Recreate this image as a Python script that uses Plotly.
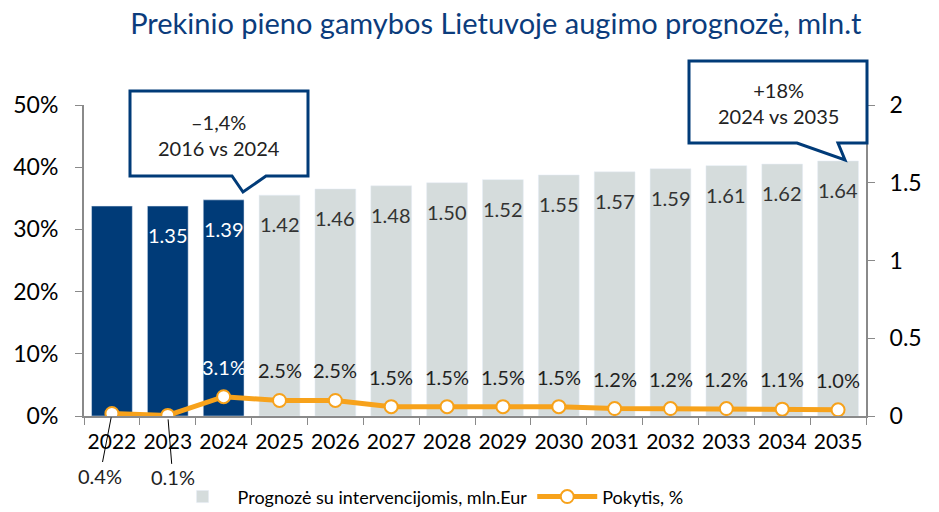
import plotly.graph_objects as go

years = [str(y) for y in range(2022, 2036)]
production = [1.35, 1.35, 1.39, 1.42, 1.46, 1.48, 1.50, 1.52, 1.55, 1.57, 1.59, 1.61, 1.62, 1.64]
bar_labels = ["", "1.35", "1.39", "1.42", "1.46", "1.48", "1.50", "1.52", "1.55", "1.57", "1.59", "1.61", "1.62", "1.64"]
change_pct = [0.4, 0.1, 3.1, 2.5, 2.5, 1.5, 1.5, 1.5, 1.5, 1.2, 1.2, 1.2, 1.1, 1.0]
n_actual = 3

NAVY = "#003b78"
GRAY = "#d5dcdc"
ORANGE = "#f7a21b"
FONT = "Lato"

# plot area in pixels (for decoration shapes)
L, R, T, B = 84, 866, 105, 416


def px(x):
    return (x - L) / (R - L)


def py(y):
    return (B - y) / (B - T)


fig = go.Figure()

fig.add_trace(go.Bar(
    x=years[:n_actual], y=production[:n_actual], marker_color=NAVY,
    width=0.73, showlegend=False, yaxis="y", hoverinfo="skip"))
fig.add_trace(go.Bar(
    x=years[n_actual:], y=production[n_actual:], marker_color=GRAY,
    width=0.73, name="Prognozė su intervencijomis, mln.Eur", yaxis="y"))
fig.add_trace(go.Scatter(
    x=years, y=change_pct, mode="lines+markers", name="Pokytis, %",
    line=dict(color=ORANGE, width=5),
    marker=dict(size=13, color="white", line=dict(color=ORANGE, width=2)),
    yaxis="y2"))

annotations = []
# bar value labels
for i, (v, lab) in enumerate(zip(production, bar_labels)):
    if not lab:
        continue
    annotations.append(dict(
        x=i, y=v, xref="x", yref="y", text=lab, showarrow=False,
        xanchor="center", yanchor="middle",
        yshift=-29, font=dict(family=FONT, size=20,
                              color="white" if i < n_actual else "#333333")))
# line value labels
for i, v in enumerate(change_pct):
    txt = f"{v:.1f}%"
    if i < 2:
        annotations.append(dict(
            x=i, y=v, xref="x", yref="y2", text=txt, showarrow=True,
            arrowhead=0, arrowwidth=1, arrowcolor="black",
            ax=-12 if i == 0 else 5, ay=62, standoff=4,
            font=dict(family=FONT, size=20, color="#222222")))
    else:
        annotations.append(dict(
            x=i, y=v, xref="x", yref="y2", text=txt, showarrow=False,
            xanchor="center", yanchor="middle",
            yshift=30, font=dict(family=FONT, size=20,
                                 color="white" if i < n_actual else "#222222")))

# callout boxes
def callout(x0, x1, y0, y1, p1, tip, p2):
    path = (f"M {px(x0)} {py(y0)} L {px(x1)} {py(y0)} L {px(x1)} {py(y1)} "
            f"L {px(p2)} {py(y1)} L {px(tip[0])} {py(tip[1])} L {px(p1)} {py(y1)} "
            f"L {px(x0)} {py(y1)} Z")
    return dict(type="path", xref="paper", yref="paper", path=path,
                line=dict(color=NAVY, width=3), fillcolor="white", layer="above")

shapes = [
    callout(130, 308, 91, 176, 232, (243, 192), 266),
    callout(689, 867, 61, 143, 797, (845, 160), 838),
]

annotations.append(dict(x=px(219), y=py(135), xref="paper", yref="paper",
                        xanchor="center", yanchor="middle",
                        text="\u20131,4%<br>2016 vs 2024", showarrow=False,
                        font=dict(family=FONT, size=20, color="#222222")))
annotations.append(dict(x=px(778), y=py(103), xref="paper", yref="paper",
                        xanchor="center", yanchor="middle",
                        text="+18%<br>2024 vs 2035", showarrow=False,
                        font=dict(family=FONT, size=20, color="#222222")))

axis_common = dict(showline=True, linecolor="#8a8a8a", linewidth=2,
                   ticks="outside", ticklen=7, tickcolor="#8a8a8a",
                   showgrid=False, zeroline=False, automargin=False)

fig.update_layout(
    width=939, height=512,
    margin=dict(l=L, r=939 - R, t=T, b=512 - B, autoexpand=False),
    paper_bgcolor="white", plot_bgcolor="white",
    barmode="overlay",
    title=dict(text="Prekinio pieno gamybos Lietuvoje augimo prognozė, mln.t",
               x=0.528, xanchor="center", y=0.953, yanchor="middle",
               font=dict(family=FONT, size=29, color="#0b3c7c")),
    font=dict(family=FONT, size=20, color="black"),
    xaxis=dict(type="category", range=[-0.5, 13.5], tickson="boundaries",
               tickangle=0, ticklabelstandoff=6,
               tickfont=dict(size=21), **axis_common),
    yaxis=dict(range=[0, 2], side="right", tickfont=dict(size=23),
               tickvals=[0, 0.5, 1, 1.5, 2], ticklabelstandoff=10,
               ticktext=["0", "0.5", "1", "1.5", "2"], **axis_common),
    yaxis2=dict(range=[0, 50], dtick=10, side="left", overlaying="y",
                ticksuffix="%", tickfont=dict(size=23), ticklabelstandoff=12,
                **axis_common),
    legend=dict(orientation="h", x=0.44, xanchor="center", y=-0.26,
                yanchor="middle", font=dict(size=18), itemwidth=60,
                traceorder="normal"),
    annotations=annotations,
    shapes=shapes,
)

fig.write_html("out.html", post_script="document.body.style.margin='0';",
               config={"displayModeBar": False})
